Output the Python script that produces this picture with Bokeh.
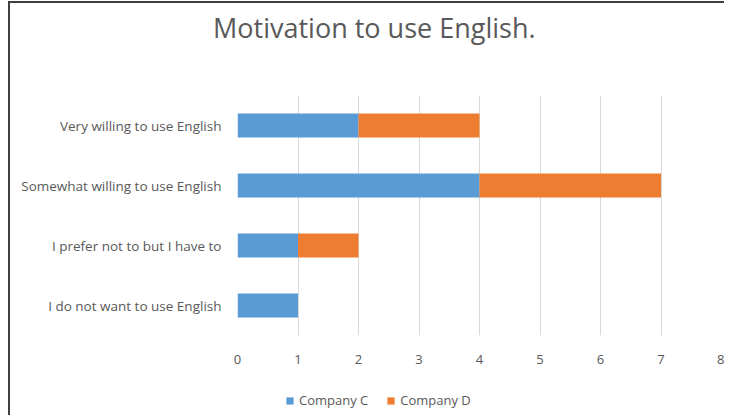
from bokeh.plotting import figure
from bokeh.models import Legend, LegendItem, FactorRange, Range1d, FixedTicker, ColumnDataSource, Div
from bokeh.layouts import column
from bokeh.embed import file_html
from bokeh.resources import INLINE

categories = ["I do not want to use English", "I prefer not to but I have to",
              "Somewhat willing to use English", "Very willing to use English"]
company_c = [1, 1, 4, 2]
company_d = [0, 1, 3, 2]
series = ["Company C", "Company D"]
colors = ["#5B9BD5", "#ED7D31"]
x_ticks = [0, 1, 2, 3, 4, 5, 6, 7, 8]
title_text = "Motivation to use English."

src = ColumnDataSource(dict(cat=categories, c=company_c, d=company_d))

title = Div(text=('<div style="font-family:\'Open Sans\';font-size:27px;color:#595959;'
                  'padding-left:213px;padding-top:9px;line-height:38px;white-space:nowrap">'
                  + title_text + '</div>'), width=724, height=80, margin=0)

p = figure(width=724, height=290, output_backend="svg", toolbar_location=None,
           y_range=FactorRange(factors=categories), x_range=Range1d(0, 8),
           min_border_left=237, min_border_right=3, min_border_top=15, min_border_bottom=35)
p.border_fill_color = None
p.background_fill_color = None

rs = p.hbar_stack(["c", "d"], y="cat", height=0.4, color=colors, source=src, line_width=0)

p.outline_line_color = None
p.ygrid.grid_line_color = None
p.xgrid.grid_line_color = "#D9D9D9"
p.xgrid.grid_line_width = 1
p.xaxis.ticker = FixedTicker(ticks=x_ticks)
for ax in (p.xaxis[0], p.yaxis[0]):
    ax.axis_line_color = None
    ax.major_tick_line_color = None
    ax.minor_tick_line_color = None
    ax.major_label_text_font = "Open Sans"
    ax.major_label_text_color = "#595959"
    ax.major_label_text_font_size = "13px"
p.yaxis.major_label_text_font_size = "13.5px"
p.xaxis.major_label_standoff = 13
p.yaxis.major_label_standoff = 10

# legend strip (same data, hidden bars supply the swatches)
lf = figure(width=724, height=45, output_backend="svg", toolbar_location=None,
            x_axis_type=None, y_axis_type=None, x_range=Range1d(0, 8),
            y_range=FactorRange(factors=categories),
            min_border_left=0, min_border_right=0, min_border_top=0, min_border_bottom=0)
lf.border_fill_color = None
lf.background_fill_color = None
lf.outline_line_color = None
lf.xgrid.grid_line_color = None
lf.ygrid.grid_line_color = None
swatches = lf.hbar_stack(["c", "d"], y="cat", height=0.4, color=colors, source=src, line_width=0)
for r in swatches:
    r.visible = False
legend = Legend(items=[LegendItem(label=s, renderers=[r]) for s, r in zip(series, swatches)],
                orientation="horizontal", location=(44, 2),
                border_line_alpha=0, background_fill_alpha=0,
                glyph_width=9, glyph_height=9, spacing=18, label_standoff=5,
                label_text_font="Open Sans", label_text_font_size="13px",
                label_text_color="#595959", margin=0, padding=4)
lf.add_layout(legend, "center")

layout = column(title, p, lf, styles={
    "background": ("linear-gradient(#3f3f3f,#3f3f3f) 8px 1px/2px 417px no-repeat, "
                   "linear-gradient(#3f3f3f,#3f3f3f) 8px 1px/724px 2px no-repeat")})
open("out.html", "w").write(file_html(layout, INLINE))
